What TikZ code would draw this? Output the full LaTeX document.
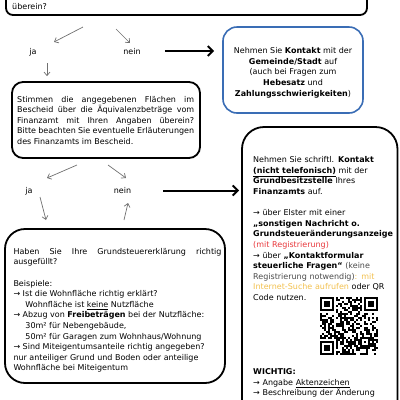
\documentclass[tikz,border=0pt]{standalone}
\usepackage{fontspec}
\setmainfont{DejaVu Sans}
\usetikzlibrary{arrows.meta}
\definecolor{bluebox}{HTML}{3A6DB5}
\definecolor{redtxt}{HTML}{E8373B}
\definecolor{yeltxt}{HTML}{F2C04E}
\definecolor{graytxt}{HTML}{4A4A4A}
\definecolor{arrowgray}{HTML}{707070}
\newcommand{\fstrut}{\rule{0pt}{7pt}}
\begin{document}
\begin{tikzpicture}[x=1pt,y=-1pt,
  font=\fontsize{8}{10.6}\selectfont,
  boxstyle/.style={draw=black, line width=1.8pt, inner sep=0pt},
  txt/.style={inner sep=0pt, text=black},
  thinarrow/.style={draw=arrowgray, line width=0.7pt, -{Straight Barb[length=3.5pt,width=6pt]}},
  thickarrow/.style={draw=black, line width=2pt, -{Straight Barb[length=5pt,width=10pt,line width=2pt]}}
]
\useasboundingbox (0,0) rectangle (400,400);

% boxes
\node[boxstyle, rounded corners=7pt, minimum width=361pt, minimum height=50pt] (top) at (186.5,-10) {};
\node[boxstyle, draw=bluebox, line width=1.6pt, rounded corners=14pt, minimum width=140pt, minimum height=86pt] (bb) at (293,70) {};
\node[boxstyle, rounded corners=11pt, minimum width=188pt, minimum height=76pt] (sb) at (106,120) {};
\node[boxstyle, rounded corners=20pt, minimum width=220pt, minimum height=154pt] (tb) at (115,306) {};
\node[boxstyle, rounded corners=22pt, minimum width=155.5pt, minimum height=313pt] (rb) at (319.75,283.5) {};

% texts
\node[txt, anchor=base west] (t0) at (12,9.5) {überein?};
\node[txt, anchor=base] (ja1) at (33,54) {ja};
\node[txt, anchor=base] (nein1) at (132,54) {nein};
\node[txt, anchor=base] (ja2) at (29,193.5) {ja};
\node[txt, anchor=base] (nein2) at (122.5,193.5) {nein};

\node[txt, align=center, anchor=north] (bbt) at (293,46.5) {\fstrut Nehmen Sie \textbf{Kontakt} mit der\\ \textbf{Gemeinde/Stadt} auf\\ (auch bei Fragen zum\\ \textbf{Hebesatz} und\\ \textbf{Zahlungsschwierigkeiten})};

\node[txt, text width=177pt, align=justify, anchor=north west] (sbt) at (17,94.8) {\fstrut Stimmen die angegebenen Flächen im\linebreak Bescheid über die Äquivalenzbeträge vom\linebreak Finanzamt mit Ihren Angaben überein?\linebreak Bitte beachten Sie eventuelle Erläuterungen\linebreak des Finanzamts im Bescheid.};

\node[txt, text width=208pt, align=justify, anchor=north west] (tbt) at (13.3,247) {\fstrut Haben Sie Ihre Grundsteuererklärung richtig\linebreak ausgefüllt?\\[10.6pt]
Beispiele:\\
→ Ist die Wohnfläche richtig erklärt?\\
\hspace*{12pt}Wohnfläche ist \underline{keine} Nutzfläche\\
→ Abzug von \textbf{Freibeträgen} bei der Nutzfläche:\\
\hspace*{12pt}30m² für Nebengebäude,\\
\hspace*{12pt}50m² für Garagen zum Wohnhaus/Wohnung\\
→ Sind Miteigentumsanteile richtig angegeben?\\
nur anteiliger Grund und Boden oder anteilige\\
Wohnfläche bei Miteigentum};

\node[txt, text width=144pt, align=left, anchor=north west] (rbt) at (253,155.5) {\fstrut Nehmen Sie schriftl. \textbf{Kontakt}\\
\textbf{\underline{(nicht telefonisch)}} mit der\\
\textbf{Grundbesitzstelle} Ihres\\
\textbf{Finanzamts} auf.\\[10.6pt]
→ über Elster mit einer\\
\textbf{„sonstigen Nachricht o.}\\
\textbf{Grundsteueränderungsanzeige}\\
{\color{redtxt}(mit Registrierung)}\\
→ über \textbf{„Kontaktformular}\\
\textbf{steuerliche Fragen“} {\color{graytxt}(keine}\\
{\color{graytxt}Registrierung notwendig)}{\color{yeltxt}: mit}\\
{\color{yeltxt}Internet-Suche aufrufen} oder QR\\
Code nutzen.};

\node[txt, text width=144pt, align=left, anchor=north west] (wt) at (253,367.5) {\fstrut\textbf{WICHTIG:}\\
→ Angabe \underline{Aktenzeichen}\\
→ Beschreibung der Änderung};

% thin arrows
\coordinate (a1s) at (83,27); \coordinate (a1e) at (54,42);
\coordinate (a2s) at (116,29); \coordinate (a2e) at (130,43);
\coordinate (a3s) at (47,63);
\coordinate (b1s) at (77,165); \coordinate (b1e) at (47,178);
\coordinate (b2s) at (108,165); \coordinate (b2e) at (126,178);
\coordinate (c1s) at (40,197); \coordinate (c1e) at (46,220);
\coordinate (c2s) at (124,220); \coordinate (c2e) at (128,203);
\draw[thinarrow] (a1s) -- (a1e);
\draw[thinarrow] (a2s) -- (a2e);
\draw[thinarrow, shorten >=5pt] (a3s) -- (a3s |- sb.north);
\draw[thinarrow] (b1s) -- (b1e);
\draw[thinarrow] (b2s) -- (b2e);
\draw[thinarrow] (c1s) -- (c1e);
\draw[thinarrow] (c2s) -- (c2e);

% thick arrows
\draw[thickarrow, shorten <=24pt, shorten >=8pt] (nein1.east) -- (nein1.east -| bb.west);
\draw[thickarrow, shorten <=32pt, shorten >=2pt] (nein2.east) -- (nein2.east -| rb.west);

% QR code
\begin{scope}[shift={(319.5,297)}]
  \pgfmathsetseed{31}
  \foreach \i in {0,...,28}{
    \foreach \j in {0,...,28}{
      \pgfmathsetmacro\rr{rnd}
      \pgfmathtruncatemacro\inf{((\i<8)&&(\j<8)) || ((\i>20)&&(\j<8)) || ((\i<8)&&(\j>20)) || ((\i>19)&&(\i<25)&&(\j>19)&&(\j<25)) ? 1 : 0}
      \ifnum\inf=0
        \ifdim\rr pt<0.5pt \fill[black] (2*\i,2*\j) rectangle ++(2,2); \fi
      \fi
    }
  }
  \foreach \ox/\oy in {0/0,44/0,0/44}{
    \fill[black] (\ox,\oy) rectangle ++(14,14);
    \fill[white] (\ox+2,\oy+2) rectangle ++(10,10);
    \fill[black] (\ox+4,\oy+4) rectangle ++(6,6);
  }
  \fill[black] (40,40) rectangle ++(10,10);
  \fill[white] (42,42) rectangle ++(6,6);
  \fill[black] (44,44) rectangle ++(2,2);
\end{scope}
\end{tikzpicture}
\end{document}
